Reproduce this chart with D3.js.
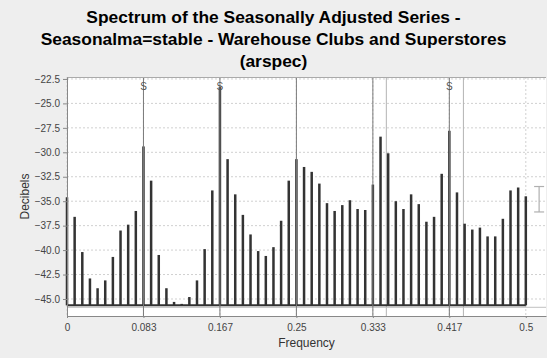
<!DOCTYPE html>
<html>
<head>
<meta charset="utf-8">
<script src="https://cdn.jsdelivr.net/npm/d3@7"></script>
<style>
  body { margin: 0; background: #eeeeee; }
  svg { display: block; }
  .tick text { font-family: "Liberation Sans", Arial, sans-serif; font-size: 10px; fill: #444; }
</style>
</head>
<body>
<svg id="chart"></svg>
<script>
// spectrum values (dB), one per frequency k/120, k = 0..60
const spectrum = [
  -34.6, -36.6, -40.2, -42.9, -43.9, -43.1, -40.7, -38.0, -37.4, -36.0,
  -29.4, -32.9, -40.5, -43.9, -45.3, -45.5, -44.8, -43.1, -39.9, -33.9,
  -23.3, -30.7, -34.3, -36.4, -38.4, -40.1, -40.6, -39.7, -37.0, -32.9,
  -30.7, -31.5, -32.0, -33.2, -35.2, -36.0, -35.4, -34.9, -35.8, -35.9,
  -33.3, -28.4, -30.1, -35.0, -35.8, -34.3, -35.3, -37.1, -36.6, -32.2,
  -27.8, -34.1, -37.3, -37.9, -37.7, -38.6, -38.6, -36.8, -33.9, -33.6,
  -34.5
];
const frequencies = d3.range(spectrum.length).map(k => k / 120);

const seasonalFreqs = [1 / 12, 2 / 12, 3 / 12, 4 / 12, 5 / 12];
const peakFreqs = [1 / 12, 2 / 12, 5 / 12];   // marked with "S"
const tradingDayFreqs = [0.348, 0.432];

const xTicks = [0, 1 / 12, 2 / 12, 3 / 12, 4 / 12, 5 / 12, 0.5];
const xTickLabels = ["0", "0.083", "0.167", "0.25", "0.333", "0.417", "0.5"];
const yTicks = [-22.5, -25, -27.5, -30, -32.5, -35, -37.5, -40, -42.5, -45];

const baseValue = -45.65;      // floor the bars stand on
const floorLine = -45.85;
const errorBar = { freq: 0.5145, hi: -33.5, lo: -36.1 };

const title = [
  "Spectrum of the Seasonally Adjusted Series -",
  "Seasonalma=stable - Warehouse Clubs and Superstores",
  "(arspec)"
];

const W = 547, H = 358;
const plot = { left: 67, top: 77, right: 546, bottom: 316 };
const font = '"Liberation Sans", Arial, sans-serif';

const svg = d3.select("#chart").attr("width", W).attr("height", H);

const x = d3.scaleLinear().domain([0, 0.522]).range([plot.left, plot.right]);
const y = d3.scaleLinear().domain([-46.74, -22.3]).range([plot.bottom, plot.top]);

// plot background
svg.append("rect")
  .attr("x", plot.left).attr("y", plot.top)
  .attr("width", plot.right - plot.left).attr("height", plot.bottom - plot.top)
  .attr("fill", "#fff");

// horizontal grid
svg.append("g").selectAll("line")
  .data(yTicks)
  .enter().append("line")
  .attr("x1", plot.left).attr("x2", plot.right)
  .attr("y1", d => y(d)).attr("y2", d => y(d))
  .attr("stroke", "#d0d0d0").attr("stroke-dasharray", "2,2");

// vertical grid
svg.append("g").selectAll("line")
  .data(xTicks)
  .enter().append("line")
  .attr("x1", d => x(d)).attr("x2", d => x(d))
  .attr("y1", plot.top).attr("y2", plot.bottom)
  .attr("stroke", "#d0d0d0").attr("stroke-dasharray", "2,2");

// trading day frequencies
svg.append("g").selectAll("line")
  .data(tradingDayFreqs)
  .enter().append("line")
  .attr("x1", d => x(d)).attr("x2", d => x(d))
  .attr("y1", plot.top).attr("y2", plot.bottom)
  .attr("stroke", "#b4b4b4");

// floor line
svg.append("line")
  .attr("x1", plot.left).attr("x2", plot.right)
  .attr("y1", y(floorLine)).attr("y2", y(floorLine))
  .attr("stroke", "#c0c0c0");

// bars
svg.append("g").selectAll("rect")
  .data(spectrum)
  .enter().append("rect")
  .attr("x", (d, i) => x(frequencies[i]) - 1.25)
  .attr("width", 2.5)
  .attr("y", d => y(d))
  .attr("height", d => y(baseValue) - y(d))
  .attr("fill", "#333");

svg.append("line")
  .attr("x1", x(0)).attr("x2", x(0.5))
  .attr("y1", y(baseValue)).attr("y2", y(baseValue))
  .attr("stroke", "#333").attr("stroke-width", 2);

// seasonal frequencies
svg.append("g").selectAll("line")
  .data(seasonalFreqs)
  .enter().append("line")
  .attr("x1", d => x(d)).attr("x2", d => x(d))
  .attr("y1", plot.top).attr("y2", plot.bottom)
  .attr("stroke", "#7a7a7a");

svg.append("g").selectAll("text")
  .data(peakFreqs)
  .enter().append("text")
  .attr("x", d => x(d)).attr("y", y(-22.5) + 11)
  .attr("text-anchor", "middle")
  .attr("font-family", font).attr("font-size", 10).attr("fill", "#555")
  .text("S");

// error bar
const eb = svg.append("g").attr("stroke", "#b0b0b0").attr("stroke-width", 1.2);
eb.append("line")
  .attr("x1", x(errorBar.freq)).attr("x2", x(errorBar.freq))
  .attr("y1", y(errorBar.hi)).attr("y2", y(errorBar.lo));
[errorBar.hi, errorBar.lo].forEach(v => {
  eb.append("line")
    .attr("x1", x(errorBar.freq) - 5).attr("x2", x(errorBar.freq) + 5)
    .attr("y1", y(v)).attr("y2", y(v));
});

// top outline
svg.append("line")
  .attr("x1", plot.left).attr("x2", plot.right)
  .attr("y1", plot.top + 0.5).attr("y2", plot.top + 0.5)
  .attr("stroke", "#aaa");

// axes
const xAxis = svg.append("g")
  .attr("transform", `translate(0,${plot.bottom})`)
  .call(d3.axisBottom(x)
    .tickValues(xTicks)
    .tickFormat((d, i) => xTickLabels[i])
    .tickSizeInner(2).tickSizeOuter(0).tickPadding(6));

const yAxis = svg.append("g")
  .attr("transform", `translate(${plot.left},0)`)
  .call(d3.axisLeft(y)
    .tickValues(yTicks)
    .tickFormat(d3.format(".1f"))
    .tickSizeInner(4).tickSizeOuter(0).tickPadding(3));

[xAxis, yAxis].forEach(a => {
  a.select(".domain").attr("stroke", "#888");
  a.selectAll(".tick line").attr("stroke", "#888");
});

// axis labels
svg.append("text")
  .attr("x", (plot.left + plot.right) / 2).attr("y", 347)
  .attr("text-anchor", "middle")
  .attr("font-family", font).attr("font-size", 12).attr("fill", "#333")
  .text("Frequency");

svg.append("text")
  .attr("transform", `translate(29,${(plot.top + plot.bottom) / 2}) rotate(-90)`)
  .attr("text-anchor", "middle")
  .attr("font-family", font).attr("font-size", 12).attr("fill", "#333")
  .text("Decibels");

// title
svg.append("g").selectAll("text")
  .data(title)
  .enter().append("text")
  .attr("x", W / 2)
  .attr("y", (d, i) => 23 + i * 22)
  .attr("text-anchor", "middle")
  .attr("font-family", font).attr("font-size", 17.4).attr("font-weight", "bold")
  .attr("fill", "#000")
  .text(d => d);
</script>
</body>
</html>
